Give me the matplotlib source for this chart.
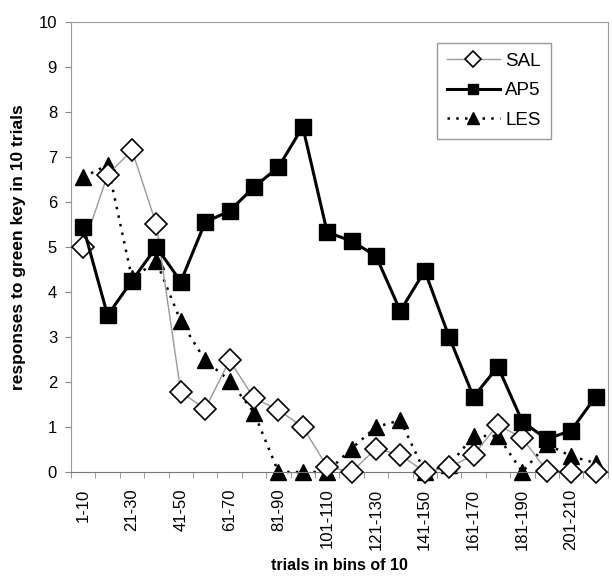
import matplotlib
matplotlib.use("Agg")
import matplotlib.pyplot as plt
import numpy as np

plt.rcParams['font.family'] = ['Liberation Sans', 'DejaVu Sans']

# bins of 10 trials
bins = [f"{i*10+1}-{i*10+10}" for i in range(22)]

sal = [5.0, 6.6, 7.15, 5.5, 1.78, 1.4, 2.48, 1.64, 1.38, 1.0, 0.12, 0.0,
       0.52, 0.38, 0.0, 0.1, 0.38, 1.05, 0.75, 0.03, 0.0, 0.0]
ap5 = [5.45, 3.48, 4.25, 5.0, 4.23, 5.55, 5.8, 6.33, 6.77, 7.67, 5.33, 5.13,
       4.8, 3.58, 4.47, 3.0, 1.67, 2.34, 1.12, 0.73, 0.92, 1.67]
les = [6.55, 6.82, 4.3, 4.68, 3.35, 2.48, 2.03, 1.32, 0.0, 0.0, 0.0, 0.52,
       1.0, 1.15, 0.0, 0.15, 0.8, 0.8, 0.0, 0.62, 0.35, 0.2]

x = np.arange(len(bins))

fig = plt.figure(figsize=(6.12, 5.77), dpi=100)
ax = fig.add_axes([0.116, 0.182, 0.877, 0.78])

ax.plot(x, sal, '-', color='#999999', linewidth=1, marker='D', markersize=11,
        markerfacecolor='white', markeredgecolor='black', markeredgewidth=1.2,
        label='SAL', zorder=3, clip_on=False)
ax.plot(x, ap5, '-', color='black', linewidth=2.2, marker='s', markersize=11,
        markerfacecolor='black', markeredgecolor='black', label='AP5', zorder=4,
        clip_on=False)
ax.plot(x, les, linestyle=(0, (1, 2.5)), color='black', linewidth=1.8,
        marker='^', markersize=12, markerfacecolor='black',
        markeredgecolor='black', label='LES', zorder=2, clip_on=False)

ax.set_xlim(-0.5, len(bins) - 0.5)
ax.set_ylim(0, 10)
ax.set_yticks(range(0, 11))
ax.tick_params(axis='y', labelsize=12, length=4, color='#888888', pad=6)

ax.set_xticks(x[::2])
ax.set_xticklabels(bins[::2], rotation=90, fontsize=12)
ax.set_xticks(np.arange(-0.5, len(bins)), minor=True)
ax.tick_params(axis='x', which='major', length=0, pad=12)
ax.tick_params(axis='x', which='minor', length=4, color='#888888')

for s in ax.spines.values():
    s.set_color('#999999')
ax.spines['bottom'].set_color('#777777')

ax.set_xlabel('trials in bins of 10', fontsize=11.5, fontweight='bold',
              va='center')
ax.xaxis.set_label_coords(0.5, -0.207)
ax.set_ylabel('responses to green key in 10 trials', fontsize=12.5,
              fontweight='bold', labelpad=9)

leg = ax.legend(loc='upper right', bbox_to_anchor=(0.912, 0.975), fontsize=13.5,
                fancybox=False, framealpha=1, edgecolor='#999999',
                handlelength=2.8, borderpad=0.55, labelspacing=0.65,
                handletextpad=0.3, markerscale=0.7)

fig.savefig('out.png', dpi=100)
